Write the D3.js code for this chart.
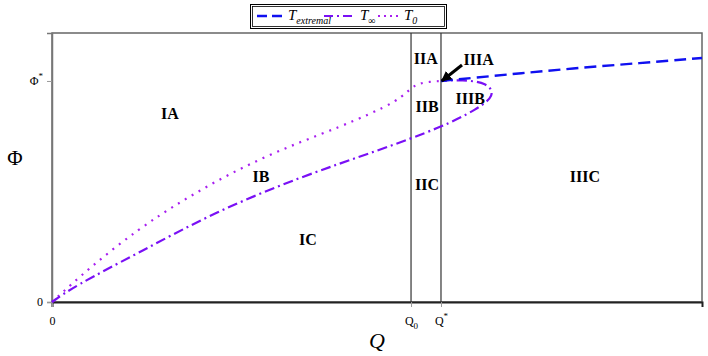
<!DOCTYPE html>
<html>
<head>
<meta charset="utf-8">
<script src="https://cdn.jsdelivr.net/npm/d3@7"></script>
<style>
  body { margin: 0; background: #fff; }
  text { font-family: "Liberation Serif", "DejaVu Serif", serif; }
</style>
</head>
<body>
<script>
// values in units of Q* and Phi*
var tZero = [
  [0, 0], [0.098, 0.158], [0.226, 0.335], [0.329, 0.452], [0.432, 0.557],
  [0.535, 0.647], [0.638, 0.724], [0.740, 0.792], [0.817, 0.851], [0.882, 0.905],
  [0.913, 0.950], [0.933, 0.982], [0.959, 0.995], [1, 1]
];
var tInf = [
  [0, 0], [0.054, 0.068], [0.226, 0.226], [0.419, 0.407], [0.638, 0.566],
  [0.843, 0.688], [1.003, 0.792], [1.093, 0.872], [1.140, 0.935], [1.120, 0.992],
  [1.054, 1.006], [1, 1]
];
var tExt = [[1, 1], [1.170, 1.029], [1.339, 1.057], [1.512, 1.081], [1.671, 1.104]];

var qZero = 0.923, qStar = 1, phiStar = 1;
var qMax = 1.671, phiMax = 1.217;

var regions = [
  {name: "IA",   q: 0.303, phi: 0.851},
  {name: "IB",   q: 0.537, phi: 0.570},
  {name: "IC",   q: 0.658, phi: 0.285},
  {name: "IIA",  q: 0.961, phi: 1.100},
  {name: "IIB",  q: 0.964, phi: 0.887},
  {name: "IIC",  q: 0.964, phi: 0.534},
  {name: "IIIB", q: 1.075, phi: 0.919},
  {name: "IIIC", q: 1.370, phi: 0.566}
];

var width = 708, height = 356;
var margin = {top: 33, right: 6, bottom: 54, left: 52};
var w = width - margin.left - margin.right,
    h = height - margin.top - margin.bottom;

var svg = d3.select("body").append("svg")
  .attr("width", width)
  .attr("height", height);

svg.append("defs").append("marker")
  .attr("id", "arrow")
  .attr("viewBox", "0 0 10 10")
  .attr("refX", 9).attr("refY", 5)
  .attr("markerWidth", 3.5).attr("markerHeight", 3.5)
  .attr("orient", "auto")
  .append("path").attr("d", "M0,0L10,5L0,10z").attr("fill", "#000");

var x = d3.scaleLinear().domain([0, qMax]).range([0, w]);
var y = d3.scaleLinear().domain([0, phiMax]).range([h, 0]);

var g = svg.append("g")
  .attr("transform", "translate(" + margin.left + "," + margin.top + ")");

// frame
g.append("rect")
  .attr("width", w).attr("height", h)
  .attr("fill", "none").attr("stroke", "#666").attr("stroke-width", 1.5);

// axes
var xAxis = g.append("g")
  .attr("transform", "translate(0," + h + ")")
  .call(d3.axisBottom(x).tickValues([0, qZero, qStar]).tickSize(5).tickPadding(6).tickFormat(""));
xAxis.select(".domain").attr("stroke", "#222").attr("stroke-width", 2);
xAxis.selectAll(".tick line").attr("stroke", "#999");
xAxis.selectAll(".tick text")
  .attr("font-size", 12).attr("fill", "#000").attr("dy", "1em")
  .each(function(d, i) {
    var t = d3.select(this);
    if (i === 0) t.text("0");
    else {
      t.append("tspan").text("Q");
      t.append("tspan").attr("font-size", 9).attr("dy", i === 1 ? 4 : -6).text(i === 1 ? "0" : "*");
    }
  });

var yAxis = g.append("g")
  .call(d3.axisLeft(y).tickValues([0, phiStar]).tickSize(5).tickPadding(4).tickFormat(""));
yAxis.select(".domain").attr("stroke", "#777").attr("stroke-width", 1.5);
yAxis.selectAll(".tick line").attr("stroke", "#999");
yAxis.selectAll(".tick text")
  .attr("font-size", 12).attr("fill", "#000")
  .each(function(d, i) {
    var t = d3.select(this);
    if (i === 0) t.text("0");
    else {
      t.append("tspan").text("\u03A6");
      t.append("tspan").attr("font-size", 9).attr("dy", -6).text("*");
    }
  });

// axis titles
svg.append("text")
  .attr("x", 377).attr("y", 348)
  .attr("text-anchor", "middle").attr("font-size", 22).attr("font-style", "italic")
  .text("Q");
svg.append("text")
  .attr("x", 15).attr("y", 165)
  .attr("text-anchor", "middle").attr("font-size", 21)
  .text("\u03A6");

// vertical lines at Q0 and Q*
g.selectAll(".vline")
  .data([qZero, qStar])
  .enter().append("line")
  .attr("class", "vline")
  .attr("x1", function(d) { return x(d); }).attr("x2", function(d) { return x(d); })
  .attr("y1", 0).attr("y2", h)
  .attr("stroke", "#333").attr("stroke-width", 1.2);

var line = d3.line()
  .x(function(d) { return x(d[0]); })
  .y(function(d) { return y(d[1]); })
  .curve(d3.curveBasis);

g.append("path").datum(tZero)
  .attr("d", line).attr("fill", "none")
  .attr("stroke", "#a81ff0").attr("stroke-width", 2.2)
  .attr("stroke-dasharray", "2,6");

g.append("path").datum(tInf)
  .attr("d", line).attr("fill", "none")
  .attr("stroke", "#7a10f5").attr("stroke-width", 2.2)
  .attr("stroke-dasharray", "10,4,2,4");

g.append("path").datum(tExt)
  .attr("d", line).attr("fill", "none")
  .attr("stroke", "#1010f0").attr("stroke-width", 2.4)
  .attr("stroke-dasharray", "12,6");

// region labels
g.selectAll(".region")
  .data(regions)
  .enter().append("text")
  .attr("class", "region")
  .attr("x", function(d) { return x(d.q); })
  .attr("y", function(d) { return y(d.phi); })
  .attr("dy", "0.35em")
  .attr("text-anchor", "middle")
  .attr("font-size", 16).attr("font-weight", "bold")
  .text(function(d) { return d.name; });

// IIIA annotation with arrow
g.append("line")
  .attr("x1", x(1.054)).attr("y1", y(1.072))
  .attr("x2", x(1.002)).attr("y2", y(1.0))
  .attr("stroke", "#000").attr("stroke-width", 3)
  .attr("marker-end", "url(#arrow)");
g.append("text")
  .attr("x", x(1.058)).attr("y", y(1.097))
  .attr("dy", "0.35em")
  .attr("font-size", 16).attr("font-weight", "bold")
  .text("IIIA");

// legend
var lg = svg.append("g");
lg.append("rect")
  .attr("x", 250.5).attr("y", 4.5).attr("width", 196).attr("height", 24)
  .attr("fill", "#fff").attr("stroke", "#000").attr("stroke-width", 1);
lg.append("rect")
  .attr("x", 252.5).attr("y", 6.5).attr("width", 192).attr("height", 20)
  .attr("fill", "none").attr("stroke", "#000").attr("stroke-width", 0.8);
lg.append("line").attr("x1", 257).attr("x2", 284).attr("y1", 16).attr("y2", 16)
  .attr("stroke", "#1010f0").attr("stroke-width", 2.4).attr("stroke-dasharray", "10,5");
var t1 = lg.append("text").attr("x", 288).attr("y", 20).attr("font-size", 15).attr("font-style", "italic");
t1.append("tspan").text("T");
t1.append("tspan").attr("font-size", 10).attr("dy", 4).text("extremal");
lg.append("line").attr("x1", 324).attr("x2", 353).attr("y1", 16).attr("y2", 16)
  .attr("stroke", "#7a10f5").attr("stroke-width", 2.2).attr("stroke-dasharray", "9,4,2,4");
var t2 = lg.append("text").attr("x", 360).attr("y", 20).attr("font-size", 15);
t2.append("tspan").attr("font-style", "italic").text("T");
t2.append("tspan").attr("font-size", 10).attr("dy", 4).text("\u221E");
lg.append("line").attr("x1", 378).attr("x2", 400).attr("y1", 16).attr("y2", 16)
  .attr("stroke", "#a81ff0").attr("stroke-width", 2.2).attr("stroke-dasharray", "2,4");
var t3 = lg.append("text").attr("x", 404).attr("y", 20).attr("font-size", 15).attr("font-style", "italic");
t3.append("tspan").text("T");
t3.append("tspan").attr("font-size", 10).attr("dy", 4).text("0");
</script>
</body>
</html>
